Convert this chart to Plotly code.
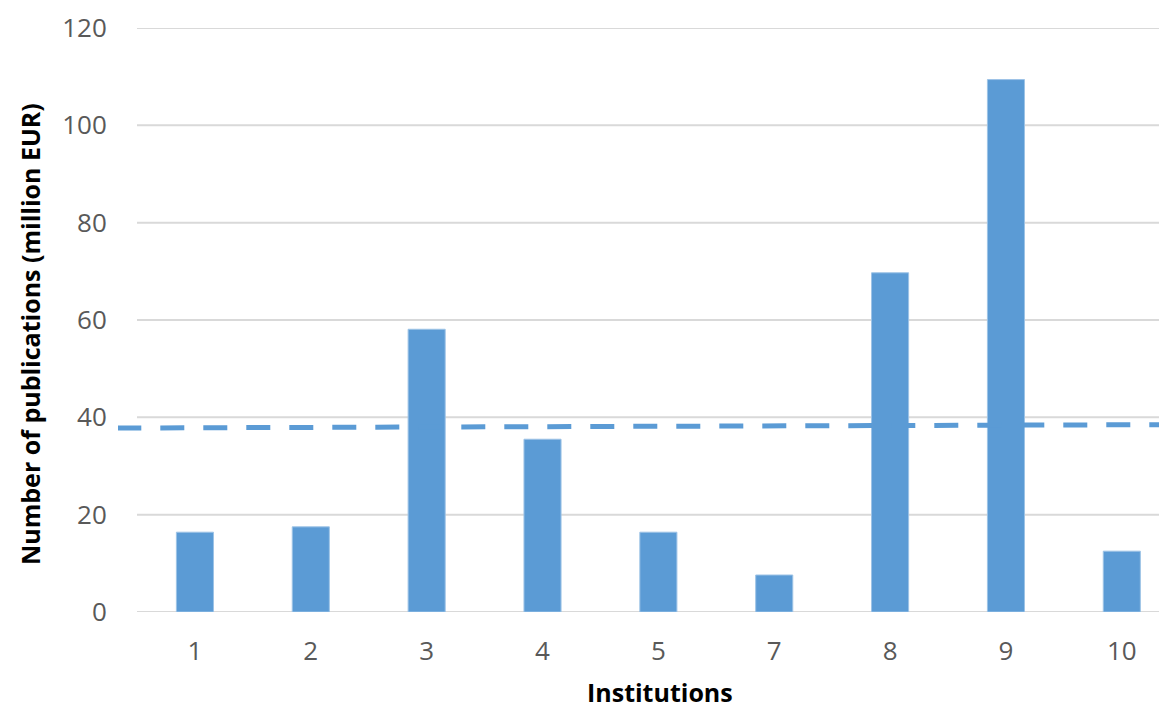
import plotly.graph_objects as go

# Data
institutions = ["1", "2", "3", "4", "5", "7", "8", "9", "10"]
publications = [16.4, 17.5, 58.1, 35.5, 16.4, 7.6, 69.7, 109.4, 12.5]
trend_x = [-0.67, 8.39]
trend_y = [37.8, 38.5]
y_ticks = [0, 20, 40, 60, 80, 100, 120]

# page body has an 8px margin; figure sized to fill the rest of the window
W, H = 1159, 700
left_line = 110   # where dashed line starts (fig px)
plot_left = 129   # where plot area starts (fig px)
top, bottom = 20, 604
x_range = [-0.5, 8.39]
px_per_unit = (W - plot_left) / (x_range[1] - x_range[0])
x2_range = [x_range[0] - (plot_left - left_line) / px_per_unit, x_range[1]]

BLUE = "#5b9bd5"
GRID = "#d9d9d9"
TICK = "#595959"
FONT = "Open Sans"

fig = go.Figure()
fig.add_trace(go.Bar(
    x=institutions, y=publications,
    marker=dict(color=BLUE, line=dict(color="#9dc3e6", width=1)),
    xaxis="x", yaxis="y", showlegend=False,
))
fig.add_trace(go.Scatter(
    x=trend_x, y=trend_y, mode="lines",
    line=dict(color=BLUE, width=5, dash="24px,19px"),
    xaxis="x2", yaxis="y", showlegend=False,
))

# horizontal gridlines spanning only the bar plot area
grid_shapes = [
    dict(type="line", xref="x domain", yref="y", x0=0, x1=1, y0=v, y1=v,
         line=dict(color=GRID, width=2), layer="below")
    for v in y_ticks
]

pw = W - left_line
ph = bottom - top
fig.update_layout(
    width=W, height=H,
    margin=dict(l=left_line, r=0, t=top, b=H - bottom),
    plot_bgcolor="rgba(0,0,0,0)", paper_bgcolor="white",
    bargap=0.68,
    font=dict(family=FONT, color=TICK),
    shapes=grid_shapes,
    xaxis=dict(
        domain=[(plot_left - left_line) / pw, 1],
        type="category", range=x_range,
        showgrid=False, showline=False, zeroline=False,
        ticks="outside", ticklen=16, tickcolor="rgba(0,0,0,0)",
        tickfont=dict(size=26, color=TICK, family=FONT),
        anchor="y",
    ),
    xaxis2=dict(
        domain=[0, 1], range=x2_range,
        visible=False, anchor="y", showgrid=False, zeroline=False,
    ),
    yaxis=dict(
        range=[0, 120], tickvals=y_ticks,
        showgrid=False, zeroline=False, showline=False,
        ticks="outside", ticklen=24, tickcolor="rgba(0,0,0,0)",
        tickfont=dict(size=26, color=TICK, family=FONT),
        anchor="x",
    ),
    annotations=[
        dict(text="<b>Institutions</b>", xref="paper", yref="paper",
             x=(652 - left_line) / pw, y=(bottom - 684) / ph,
             xanchor="center", yanchor="middle", showarrow=False,
             font=dict(size=25, color="black", family=FONT)),
        dict(text="<b>Number of publications (million EUR)</b>", xref="paper", yref="paper",
             x=(22 - left_line) / pw, y=(bottom - 326) / ph, textangle=-90,
             xanchor="center", yanchor="middle", showarrow=False,
             font=dict(size=25, color="black", family=FONT)),
    ],
)

fig.write_html("out.html")
